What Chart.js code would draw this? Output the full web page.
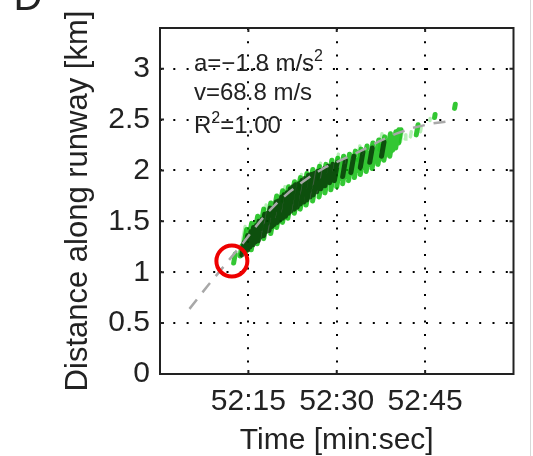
<!DOCTYPE html>
<html>
<head>
<meta charset="utf-8">
<script src="https://cdn.jsdelivr.net/npm/chart.js@4.4.1/dist/chart.umd.min.js"></script>
<style>
    html, body { margin: 0; padding: 0; background: #fff; }
</style>
</head>
<body>
<canvas id="runway-chart" width="533" height="456"></canvas>
<script>
// time is in seconds after 52:00
const X_TICKS = [15, 30, 45];
const Y_TICKS = [0, 0.5, 1, 1.5, 2, 2.5, 3];

// dashed gray fit
const FIT_T  = [5, 8, 11, 14, 16, 18, 20, 22, 24, 26, 28, 31, 34, 37, 40, 43, 46, 48.5];
const FIT_KM = [0.64, 0.86, 1.07, 1.28, 1.43, 1.57, 1.69, 1.79, 1.88, 1.96, 2.03, 2.11, 2.19, 2.28, 2.36, 2.42, 2.46, 2.48];

// detections, each one a short streak from lo to hi km
const DARK_T  = [13.9, 14.4, 14.9, 15.3, 15.8, 16.2, 16.7, 17.1, 17.6, 18.0, 18.5, 19.0, 19.4, 19.9, 20.3, 20.8, 21.3, 21.8, 22.2, 22.8, 23.3, 23.8, 24.4, 24.9, 25.5, 26.0, 26.6, 27.3, 28.0, 28.8, 29.6, 31.0, 32.4, 34.0, 35.6, 37.6];
const DARK_LO = [1.17, 1.20, 1.22, 1.25, 1.27, 1.30, 1.31, 1.35, 1.36, 1.40, 1.41, 1.45, 1.47, 1.49, 1.51, 1.53, 1.55, 1.58, 1.60, 1.62, 1.64, 1.67, 1.69, 1.71, 1.74, 1.76, 1.79, 1.82, 1.85, 1.88, 1.90, 1.94, 1.98, 2.03, 2.08, 2.14];
const DARK_HI = [1.29, 1.36, 1.40, 1.44, 1.46, 1.50, 1.52, 1.57, 1.58, 1.63, 1.62, 1.69, 1.70, 1.74, 1.76, 1.78, 1.82, 1.84, 1.86, 1.87, 1.90, 1.92, 1.95, 1.96, 1.97, 1.99, 2.00, 2.02, 2.04, 2.06, 2.08, 2.10, 2.14, 2.18, 2.22, 2.28];

const GREEN_T  = [12.5, 13.6, 14.1, 14.6, 15.0, 15.5, 16.0, 16.5, 17.0, 17.6, 18.2, 18.8, 19.2, 19.8, 20.2, 20.8, 21.2, 21.7, 22.2, 22.8, 23.2, 23.8, 24.3, 24.8, 25.3, 25.9, 26.4, 27.0, 27.5, 28.0, 28.5, 29.0, 29.5, 30.0, 30.5, 31.0, 31.5, 32.0, 32.5, 33.0, 33.5, 34.0, 34.5, 35.0, 35.5, 36.0, 36.5, 37.0, 37.5, 38.0, 38.5, 39.0, 39.5, 40.0, 40.5, 43.5, 46.6, 50.0];
const GREEN_LO = [1.09, 1.16, 1.22, 1.20, 1.30, 1.22, 1.36, 1.28, 1.42, 1.33, 1.48, 1.38, 1.55, 1.44, 1.60, 1.49, 1.63, 1.53, 1.68, 1.58, 1.72, 1.62, 1.76, 1.66, 1.80, 1.70, 1.82, 1.74, 1.84, 1.78, 1.88, 1.81, 1.90, 1.84, 1.92, 1.87, 1.94, 1.90, 1.97, 1.93, 2.00, 1.96, 2.03, 1.99, 2.06, 2.02, 2.09, 2.06, 2.12, 2.10, 2.16, 2.14, 2.20, 2.22, 2.27, 2.35, 2.52, 2.61];
const GREEN_HI = [1.18, 1.26, 1.42, 1.30, 1.48, 1.34, 1.55, 1.40, 1.62, 1.46, 1.68, 1.52, 1.75, 1.58, 1.80, 1.62, 1.84, 1.66, 1.89, 1.72, 1.93, 1.76, 1.97, 1.80, 2.01, 1.84, 2.04, 1.90, 2.06, 1.94, 2.10, 1.97, 2.12, 2.00, 2.14, 2.04, 2.16, 2.08, 2.19, 2.10, 2.21, 2.13, 2.24, 2.17, 2.27, 2.20, 2.30, 2.24, 2.33, 2.28, 2.36, 2.32, 2.38, 2.40, 2.40, 2.45, 2.55, 2.65];

const LIGHT_T  = [14.0, 17.6, 20.8, 23.6, 26.8, 29.8, 33.5, 37.2, 40.8, 41.6, 42.5, 44.2, 45.8];
const LIGHT_LO = [1.30, 1.52, 1.70, 1.82, 1.92, 2.00, 2.10, 2.20, 2.28, 2.31, 2.33, 2.38, 2.49];
const LIGHT_HI = [1.45, 1.66, 1.84, 1.96, 2.07, 2.16, 2.24, 2.36, 2.39, 2.35, 2.38, 2.42, 2.51];

// red circle around the first detection
const START_T = [12.2];
const START_KM = [1.11];

const FIT_LINES = [
    { text: 'a=−1.8 m/s', sup: '2', tail: '' },
    { text: 'v=68.8 m/s', sup: '', tail: '' },
    { text: 'R', sup: '2', tail: '=1.00' },
];

const FONT = "'Liberation Sans', Arial, Helvetica, sans-serif";
const INK = '#222';
const SLANT = 3; // streaks lean right, seconds per km

function toStreaks(ts, los, his) {
    const pts = [];
    ts.forEach((t, i) => {
        pts.push({ x: t, y: los[i] });
        pts.push({ x: t + (his[i] - los[i]) * SLANT, y: his[i] });
        pts.push({ x: t, y: null });
    });
    return pts;
}

function streakSet(data, color, width) {
    return {
        data: data,
        showLine: true,
        borderColor: color,
        borderWidth: width,
        borderCapStyle: 'round',
        pointRadius: 0,
        spanGaps: false,
    };
}

const frameAndText = {
    id: 'frameAndText',
    afterDatasetsDraw(chart) {
        const { ctx, chartArea: a, scales: { x, y } } = chart;
        ctx.save();

        // box with inward ticks, matlab style
        ctx.strokeStyle = INK;
        ctx.lineWidth = 2;
        ctx.strokeRect(a.left, a.top, a.right - a.left, a.bottom - a.top);
        ctx.beginPath();
        X_TICKS.forEach(v => {
            const px = x.getPixelForValue(v);
            ctx.moveTo(px, a.bottom); ctx.lineTo(px, a.bottom - 4);
            ctx.moveTo(px, a.top); ctx.lineTo(px, a.top + 4);
        });
        Y_TICKS.forEach(v => {
            const py = y.getPixelForValue(v);
            ctx.moveTo(a.left, py); ctx.lineTo(a.left + 4, py);
            ctx.moveTo(a.right, py); ctx.lineTo(a.right - 4, py);
        });
        ctx.stroke();

        // fit results
        ctx.fillStyle = INK;
        ctx.textBaseline = 'alphabetic';
        const baselines = [71, 100, 133];
        FIT_LINES.forEach((line, i) => {
            let cx = 194;
            ctx.font = '24px ' + FONT;
            ctx.fillText(line.text, cx, baselines[i]);
            cx += ctx.measureText(line.text).width;
            if (line.sup) {
                ctx.font = '16px ' + FONT;
                ctx.fillText(line.sup, cx, baselines[i] - 10);
                cx += ctx.measureText(line.sup).width;
            }
            ctx.font = '24px ' + FONT;
            ctx.fillText(line.tail, cx, baselines[i]);
        });

        // panel letter, cut off at the top
        ctx.font = '40px ' + FONT;
        ctx.fillText('D', 13.5, 9.5);

        // page edge on the right
        ctx.fillStyle = '#d8d8d8';
        ctx.fillRect(530, 0, 1, chart.height);
        ctx.restore();
    },
};

function renderRunwayChart() {
    const elm = document.getElementById('runway-chart');
    if (!elm) return;

    const ctx = elm.getContext('2d');
    new Chart(ctx, {
        type: 'scatter',
        data: {
            datasets: [
                {
                    data: START_T.map((t, i) => ({ x: t, y: START_KM[i] })),
                    pointStyle: 'circle',
                    pointRadius: 15.5,
                    pointBorderWidth: 4,
                    pointBorderColor: '#ee0000',
                    pointBackgroundColor: 'rgba(0,0,0,0)',
                },
                {
                    data: FIT_T.map((t, i) => ({ x: t, y: FIT_KM[i] })),
                    showLine: true,
                    borderColor: '#a8a8a8',
                    borderWidth: 2.5,
                    borderDash: [12, 9],
                    pointRadius: 0,
                },
                streakSet(toStreaks(DARK_T, DARK_LO, DARK_HI), 'rgba(0, 40, 0, 0.75)', 5),
                streakSet(toStreaks(GREEN_T, GREEN_LO, GREEN_HI), 'rgba(0, 185, 0, 0.8)', 5),
                streakSet(toStreaks(LIGHT_T, LIGHT_LO, LIGHT_HI), 'rgba(110, 225, 110, 0.5)', 3.5),
            ],
        },
        options: {
            responsive: false,
            animation: false,
            layout: { padding: { top: 22, right: 17, left: 0, bottom: 0 } },
            plugins: {
                legend: { display: false },
                tooltip: { enabled: false },
            },
            scales: {
                x: {
                    type: 'linear',
                    min: 0,
                    max: 60,
                    afterBuildTicks: s => { s.ticks = X_TICKS.map(v => ({ value: v })); },
                    afterFit: s => { s.height = 82; },
                    grid: { color: '#000', lineWidth: 2, drawTicks: false },
                    border: { display: false, dash: [2, 11.3] },
                    ticks: {
                        padding: 10,
                        color: INK,
                        maxRotation: 0,
                        autoSkip: false,
                        font: { size: 30, family: FONT },
                        callback: v => '52:' + String(v).padStart(2, '0'),
                    },
                    title: {
                        display: true,
                        text: 'Time [min:sec]',
                        color: INK,
                        font: { size: 30, family: FONT, lineHeight: 1 },
                        padding: { top: 0, bottom: 0 },
                    },
                },
                y: {
                    type: 'linear',
                    min: 0,
                    max: 3.4,
                    afterBuildTicks: s => { s.ticks = Y_TICKS.map(v => ({ value: v })); },
                    afterFit: s => { s.width = 160; },
                    grid: { color: '#000', lineWidth: 2, drawTicks: false },
                    border: { display: false, dash: [2, 11.3] },
                    ticks: {
                        padding: 10,
                        color: INK,
                        autoSkip: false,
                        font: { size: 30, family: FONT },
                        callback: v => String(v),
                    },
                    title: {
                        display: true,
                        text: 'Distance along runway [km]',
                        color: INK,
                        font: { size: 31, family: FONT, lineHeight: 1 },
                        padding: { top: 63, bottom: 0 },
                    },
                },
            },
        },
        plugins: [frameAndText],
    });
}

renderRunwayChart();
</script>
</body>
</html>
